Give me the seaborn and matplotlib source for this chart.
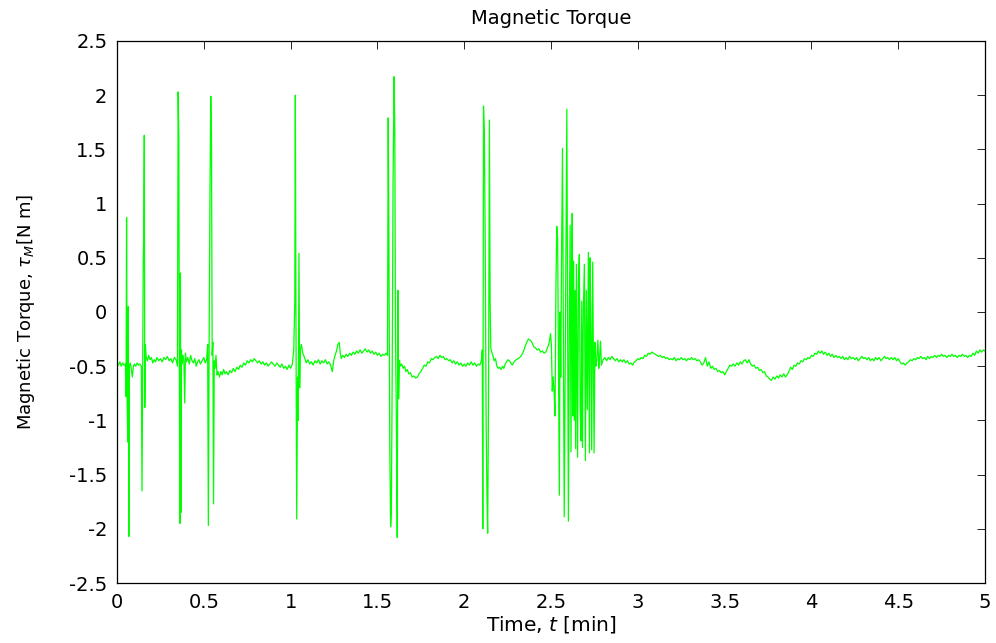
import matplotlib
matplotlib.use("Agg")
import matplotlib.pyplot as plt
import seaborn as sns
import pandas as pd

# Magnetic torque samples (time in min, torque in N m), grouped by stretch of the run
seg_start = [
    (0.000, -0.47), (0.008, -0.49), (0.016, -0.46), (0.024, -0.50), (0.032, -0.47), (0.040, -0.49),
    (0.048, -0.48), (0.052, -0.78), (0.055, 0.87), (0.058, -0.80), (0.062, -1.20), (0.065, 0.05),
    (0.068, -2.07), (0.071, -0.50), (0.076, -0.47), (0.082, -0.52), (0.088, -0.60), (0.094, -0.50),
    (0.100, -0.48), (0.108, -0.50), (0.116, -0.47), (0.124, -0.49), (0.132, -0.48), (0.140, -0.50),
    (0.144, -1.65), (0.148, -0.50), (0.151, 0.45), (0.154, 0.75), (0.157, 1.63), (0.160, -0.88),
    (0.163, -0.30), (0.168, -0.42), (0.175, -0.45), (0.182, -0.40), (0.190, -0.44), (0.198, -0.42),
    (0.206, -0.47), (0.214, -0.44), (0.222, -0.46), (0.230, -0.42), (0.240, -0.45), (0.250, -0.43),
    (0.260, -0.46), (0.270, -0.42), (0.280, -0.44), (0.290, -0.41), (0.300, -0.45), (0.310, -0.43),
    (0.320, -0.47), (0.330, -0.42), (0.340, -0.44), (0.348, -0.50),
]

seg_early = [
    (0.352, 2.03), (0.356, 1.59), (0.359, -0.50), (0.362, -1.95), (0.365, 0.36), (0.368, -1.85),
    (0.371, -0.35), (0.375, -0.48), (0.380, -0.40), (0.385, -0.45), (0.390, -0.84), (0.394, -0.38),
    (0.400, -0.46), (0.408, -0.42), (0.416, -0.48), (0.424, -0.40), (0.432, -0.45), (0.440, -0.47),
    (0.448, -0.43), (0.456, -0.50), (0.464, -0.46), (0.472, -0.44), (0.480, -0.48), (0.490, -0.45),
    (0.500, -0.42), (0.508, -0.47), (0.516, -0.44), (0.522, -0.30),
    (0.526, -1.97), (0.530, -0.45), (0.535, 1.00), (0.540, 1.99), (0.544, 1.63), (0.548, -0.40),
    (0.552, -0.28), (0.556, -1.77), (0.560, -0.45), (0.565, -0.52), (0.570, -0.40), (0.576, -0.58),
    (0.582, -0.55), (0.590, -0.60), (0.598, -0.55), (0.606, -0.58), (0.614, -0.53), (0.622, -0.57),
    (0.630, -0.55), (0.640, -0.58), (0.650, -0.54), (0.660, -0.56), (0.670, -0.52), (0.680, -0.55),
    (0.690, -0.51), (0.700, -0.53), (0.710, -0.49), (0.720, -0.51), (0.730, -0.47), (0.740, -0.49),
    (0.750, -0.45), (0.760, -0.47), (0.770, -0.44), (0.780, -0.46), (0.790, -0.43), (0.800, -0.45),
    (0.810, -0.47), (0.820, -0.45), (0.830, -0.48), (0.840, -0.46), (0.850, -0.49), (0.860, -0.47),
    (0.870, -0.50), (0.880, -0.48), (0.890, -0.46), (0.900, -0.48), (0.910, -0.50), (0.920, -0.47),
    (0.930, -0.49), (0.940, -0.51), (0.950, -0.48), (0.960, -0.52), (0.970, -0.50), (0.980, -0.53),
    (0.990, -0.49), (1.000, -0.52), (1.010, -0.48), (1.018, -0.35),
]

seg_middle = [
    (1.024, 0.10), (1.027, 2.00), (1.031, -0.20), (1.035, -1.91), (1.040, -0.60), (1.044, -1.00),
    (1.048, 0.54), (1.052, -0.70), (1.056, -0.35), (1.062, -0.30), (1.070, -0.38), (1.080, -0.42),
    (1.090, -0.47), (1.100, -0.44), (1.110, -0.48), (1.120, -0.46), (1.130, -0.49), (1.140, -0.45),
    (1.150, -0.47), (1.160, -0.44), (1.170, -0.48), (1.180, -0.45), (1.190, -0.47), (1.200, -0.44),
    (1.210, -0.48), (1.220, -0.46), (1.230, -0.49), (1.240, -0.55), (1.248, -0.45), (1.256, -0.40),
    (1.264, -0.36), (1.272, -0.30), (1.280, -0.28), (1.286, -0.38), (1.292, -0.43), (1.300, -0.40),
    (1.310, -0.42), (1.320, -0.39), (1.330, -0.41), (1.340, -0.38), (1.350, -0.40), (1.360, -0.37),
    (1.370, -0.39), (1.380, -0.36), (1.390, -0.38), (1.400, -0.35), (1.410, -0.38), (1.420, -0.36),
    (1.430, -0.34), (1.440, -0.37), (1.450, -0.35), (1.460, -0.38), (1.470, -0.36), (1.480, -0.39),
    (1.490, -0.37), (1.500, -0.40), (1.510, -0.38), (1.520, -0.41), (1.530, -0.39), (1.540, -0.40),
    (1.550, -0.38), (1.558, -0.40),
    (1.562, 1.79), (1.566, 0.62), (1.571, -1.20), (1.576, -1.98), (1.580, -1.85), (1.585, -0.60),
    (1.590, 1.20), (1.596, 2.17), (1.600, 1.66), (1.604, -0.20), (1.609, -1.00), (1.614, -2.08),
    (1.618, 0.20), (1.622, -0.80), (1.627, -0.45), (1.632, -0.50), (1.640, -0.48), (1.648, -0.52),
    (1.656, -0.50), (1.664, -0.55), (1.672, -0.53), (1.680, -0.57), (1.690, -0.56), (1.700, -0.60),
    (1.710, -0.59), (1.720, -0.61), (1.730, -0.60), (1.740, -0.57), (1.750, -0.55), (1.760, -0.52),
    (1.770, -0.49), (1.780, -0.50), (1.790, -0.46), (1.800, -0.47), (1.810, -0.43), (1.820, -0.44),
    (1.830, -0.42), (1.840, -0.41), (1.850, -0.43), (1.860, -0.40), (1.870, -0.42), (1.880, -0.41),
    (1.890, -0.44), (1.900, -0.43), (1.910, -0.45), (1.920, -0.44), (1.930, -0.47), (1.940, -0.45),
    (1.950, -0.48), (1.960, -0.46), (1.970, -0.49), (1.980, -0.47), (1.990, -0.50), (2.000, -0.48),
    (2.010, -0.50), (2.020, -0.47), (2.030, -0.49), (2.040, -0.46), (2.050, -0.49), (2.060, -0.47),
    (2.070, -0.50), (2.080, -0.48), (2.090, -0.49), (2.100, -0.44),
]

seg_late = [
    (2.104, -0.35), (2.107, -2.00), (2.111, 1.90), (2.116, 1.64), (2.121, 0.60), (2.126, -1.00),
    (2.131, -1.70), (2.135, -2.04), (2.140, -0.80), (2.145, 1.77), (2.149, 0.10), (2.153, -0.33),
    (2.158, -0.37), (2.165, -0.40), (2.172, -0.45), (2.180, -0.43), (2.188, -0.50), (2.196, -0.52),
    (2.204, -0.51), (2.212, -0.53), (2.220, -0.50), (2.228, -0.52), (2.236, -0.48), (2.244, -0.46),
    (2.252, -0.44), (2.260, -0.45), (2.268, -0.47), (2.276, -0.49), (2.284, -0.47), (2.292, -0.45),
    (2.300, -0.44), (2.310, -0.43), (2.320, -0.42), (2.330, -0.40), (2.340, -0.37), (2.350, -0.32),
    (2.360, -0.28), (2.370, -0.25), (2.380, -0.26), (2.390, -0.28), (2.400, -0.32), (2.410, -0.33),
    (2.420, -0.35), (2.430, -0.34), (2.440, -0.37), (2.450, -0.36), (2.460, -0.38), (2.470, -0.37),
    (2.480, -0.33), (2.490, -0.28), (2.497, -0.20), (2.502, -0.30), (2.507, -0.73), (2.512, -0.60),
    (2.518, -0.75), (2.523, -0.96),
]

seg_burst = [
    (2.528, 0.20), (2.533, 0.79), (2.538, 0.67), (2.543, -0.50), (2.548, -1.69), (2.552, 0.00),
    (2.556, -0.60), (2.561, 0.60), (2.566, 1.51), (2.571, -0.30), (2.576, -1.89), (2.581, -0.70),
    (2.586, 0.60), (2.591, 1.87), (2.596, -0.40), (2.600, -1.93), (2.605, -0.20), (2.610, 0.80),
    (2.615, -1.29), (2.619, 0.40), (2.622, 0.91), (2.626, -0.96), (2.630, 0.47), (2.634, -1.00),
    (2.638, 0.20), (2.642, -1.26), (2.646, 0.44), (2.650, -0.60), (2.653, -1.34), (2.658, 0.30),
    (2.663, 0.53), (2.668, -0.90), (2.673, -1.19), (2.677, 0.10), (2.681, -1.25), (2.686, 0.00),
    (2.692, 0.44), (2.698, -1.37), (2.703, 0.20), (2.709, -0.90), (2.715, 0.55), (2.721, -1.30),
    (2.725, 0.50), (2.730, -0.20), (2.734, -1.27), (2.740, 0.46), (2.748, -1.30), (2.753, -0.28),
    (2.758, -0.50), (2.763, -0.45), (2.770, -0.26), (2.775, -0.52), (2.780, -0.41), (2.785, -0.27),
    (2.790, -0.49),
]

seg_tail = [
    (2.800, -0.44), (2.810, -0.42), (2.820, -0.45), (2.830, -0.42), (2.840, -0.44), (2.850, -0.41),
    (2.860, -0.43), (2.870, -0.45), (2.880, -0.43), (2.890, -0.46), (2.900, -0.44), (2.910, -0.46),
    (2.920, -0.44), (2.930, -0.47), (2.940, -0.45), (2.950, -0.48), (2.960, -0.47), (2.970, -0.49),
    (2.980, -0.46), (2.990, -0.45), (3.000, -0.43), (3.010, -0.44), (3.020, -0.42), (3.030, -0.43),
    (3.040, -0.40), (3.050, -0.41), (3.060, -0.38), (3.070, -0.39), (3.080, -0.37), (3.090, -0.38),
    (3.100, -0.39), (3.110, -0.40), (3.120, -0.41), (3.130, -0.40), (3.140, -0.42), (3.150, -0.41),
    (3.160, -0.43), (3.170, -0.42), (3.180, -0.44), (3.190, -0.43), (3.200, -0.44), (3.210, -0.42),
    (3.220, -0.45), (3.230, -0.43), (3.240, -0.44), (3.250, -0.42), (3.260, -0.44), (3.270, -0.43),
    (3.280, -0.45), (3.290, -0.43), (3.300, -0.44), (3.310, -0.42), (3.320, -0.44), (3.330, -0.43),
    (3.340, -0.45), (3.350, -0.44), (3.360, -0.46), (3.370, -0.49), (3.380, -0.47), (3.390, -0.42),
    (3.400, -0.50), (3.410, -0.46), (3.420, -0.52), (3.430, -0.50), (3.440, -0.53), (3.450, -0.52),
    (3.460, -0.55), (3.470, -0.54), (3.480, -0.56), (3.490, -0.55), (3.500, -0.58), (3.510, -0.55),
    (3.520, -0.52), (3.530, -0.49), (3.540, -0.50), (3.550, -0.48), (3.560, -0.50), (3.570, -0.47),
    (3.580, -0.49), (3.590, -0.46), (3.600, -0.48), (3.610, -0.45), (3.620, -0.44), (3.630, -0.47),
    (3.640, -0.44), (3.650, -0.48), (3.660, -0.50), (3.670, -0.49), (3.680, -0.52), (3.690, -0.51),
    (3.700, -0.54), (3.710, -0.53), (3.720, -0.56), (3.730, -0.55), (3.740, -0.59), (3.750, -0.60),
    (3.760, -0.62), (3.770, -0.63), (3.780, -0.60), (3.790, -0.62), (3.800, -0.59), (3.810, -0.61),
    (3.820, -0.58), (3.830, -0.60), (3.840, -0.57), (3.850, -0.60), (3.860, -0.58), (3.870, -0.55),
    (3.880, -0.51), (3.890, -0.53), (3.900, -0.49), (3.910, -0.50), (3.920, -0.47), (3.930, -0.48),
    (3.940, -0.45), (3.950, -0.46), (3.960, -0.43), (3.970, -0.44), (3.980, -0.42), (3.990, -0.43),
    (4.000, -0.40), (4.010, -0.41), (4.020, -0.38), (4.030, -0.39), (4.040, -0.36), (4.050, -0.38),
    (4.060, -0.36), (4.070, -0.39), (4.080, -0.37), (4.090, -0.40), (4.100, -0.38), (4.110, -0.41),
    (4.120, -0.39), (4.130, -0.42), (4.140, -0.40), (4.150, -0.42), (4.160, -0.41), (4.170, -0.43),
    (4.180, -0.41), (4.190, -0.44), (4.200, -0.42), (4.210, -0.44), (4.220, -0.41), (4.230, -0.43),
    (4.240, -0.42), (4.250, -0.44), (4.260, -0.42), (4.270, -0.45), (4.280, -0.43), (4.290, -0.41),
    (4.300, -0.43), (4.310, -0.42), (4.320, -0.44), (4.330, -0.42), (4.340, -0.45), (4.350, -0.43),
    (4.360, -0.45), (4.370, -0.42), (4.380, -0.44), (4.390, -0.42), (4.400, -0.45), (4.410, -0.43),
    (4.420, -0.41), (4.430, -0.43), (4.440, -0.42), (4.450, -0.44), (4.460, -0.42), (4.470, -0.44),
    (4.480, -0.42), (4.490, -0.45), (4.500, -0.43), (4.510, -0.46), (4.520, -0.48), (4.530, -0.47),
    (4.540, -0.49), (4.550, -0.47), (4.560, -0.46), (4.570, -0.44), (4.580, -0.45), (4.590, -0.43),
    (4.600, -0.44), (4.610, -0.42), (4.620, -0.43), (4.630, -0.41), (4.640, -0.43), (4.650, -0.42),
    (4.660, -0.44), (4.670, -0.41), (4.680, -0.43), (4.690, -0.41), (4.700, -0.42), (4.710, -0.40),
    (4.720, -0.42), (4.730, -0.40), (4.740, -0.41), (4.750, -0.39), (4.760, -0.41), (4.770, -0.40),
    (4.780, -0.42), (4.790, -0.40), (4.800, -0.41), (4.810, -0.39), (4.820, -0.41), (4.830, -0.40),
    (4.840, -0.42), (4.850, -0.40), (4.860, -0.41), (4.870, -0.39), (4.880, -0.41), (4.890, -0.40),
    (4.900, -0.42), (4.910, -0.40), (4.920, -0.41), (4.930, -0.38), (4.940, -0.40), (4.950, -0.36),
    (4.960, -0.38), (4.970, -0.35), (4.980, -0.37), (4.990, -0.35), (5.000, -0.36),
]

x_ticks = [0, 0.5, 1, 1.5, 2, 2.5, 3, 3.5, 4, 4.5, 5]
x_tick_labels = ["0", "0.5", "1", "1.5", "2", "2.5", "3", "3.5", "4", "4.5", "5"]
y_ticks = [-2.5, -2, -1.5, -1, -0.5, 0, 0.5, 1, 1.5, 2, 2.5]
y_tick_labels = ["-2.5", "-2", "-1.5", "-1", "-0.5", "0", "0.5", "1", "1.5", "2", "2.5"]

samples = seg_start + seg_early + seg_middle + seg_late + seg_burst + seg_tail
df = pd.DataFrame(samples, columns=["t", "tau"])

sns.set_theme(style="white")
plt.rcParams["font.family"] = ["DejaVu Sans"]
plt.rcParams["mathtext.fontset"] = "dejavusans"
plt.rcParams["axes.unicode_minus"] = False
plt.rcParams["text.color"] = "black"
plt.rcParams["axes.labelcolor"] = "black"

fig = plt.figure(figsize=(9.96, 6.43), dpi=100)
ax = fig.add_axes([0.1175, 0.0933, 0.8715, 0.8430])

sns.lineplot(data=df, x="t", y="tau", ax=ax, color="#00ff00", linewidth=0.9,
             estimator=None, sort=False)

ax.set_xlim(0, 5)
ax.set_ylim(-2.5, 2.5)
ax.set_xticks(x_ticks)
ax.set_xticklabels(x_tick_labels)
ax.set_yticks(y_ticks)
ax.set_yticklabels(y_tick_labels)

ax.tick_params(axis="both", which="both", direction="in", length=6, width=0.6,
               top=True, right=True, labelsize=14, colors="black")
ax.tick_params(axis="x", pad=7)
ax.tick_params(axis="y", pad=7)
for side in ax.spines.values():
    side.set_visible(True)
    side.set_color("black")
    side.set_linewidth(0.9)

ax.set_title("Magnetic Torque", fontsize=14, pad=12, color="black")
ax.set_xlabel("Time, $t$ [min]", fontsize=14.5, color="black")
ax.set_ylabel(r"Magnetic Torque, $\tau_M$[N m]", fontsize=13, color="black")
ax.xaxis.set_label_coords(0.5, -0.058)
ax.yaxis.set_label_coords(-0.092, 0.5)
ax.grid(False)

fig.savefig("out.png", dpi=100)
